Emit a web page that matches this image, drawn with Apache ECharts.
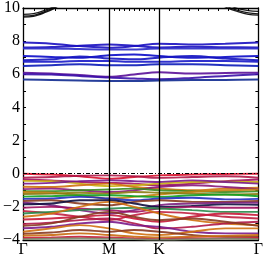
<!DOCTYPE html>
<html><head><meta charset="utf-8">
<script src="https://cdn.jsdelivr.net/npm/echarts@6/dist/echarts.min.js"></script>
<style>html,body{margin:0;padding:0;background:#fff}#c{width:266px;height:258px}</style>
</head><body><div id="c"></div>
<script>
// k-path coordinates (Γ - M - K - Γ, hexagonal BZ lengths)
const kPath = [0, 0.19, 0.38, 0.577, 0.744, 0.911, 1.133, 1.355, 1.577];
const kLabelPos = [0, 0.577, 0.911, 1.577];
const kLabels = ['Γ', 'M', 'K', 'Γ'];
// k sample marks along the top edge
const kTopTicks = [0.072, 0.144, 0.216, 0.289, 0.361, 0.433, 0.505,
  0.610, 0.644, 0.677, 0.711, 0.744, 0.777, 0.811, 0.844, 0.878,
  0.978, 1.044, 1.111, 1.177, 1.244, 1.311, 1.377, 1.444, 1.511];
const yTickLabels = [-4, -2, 0, 2, 4, 6, 8, 10];

// high conduction bands (black) near Γ
const blackKLeft = [0, 0.07, 0.14, 0.21, 0.28];
const blackLeft = [
  [9.45, 9.50, 9.70, 9.98, 10.4],
  [9.51, 9.56, 9.76, 10.04, 10.45],
  [9.62, 9.66, 9.84, 10.1, 10.5]
];
const blackKRight = [1.577, 1.51, 1.44, 1.37, 1.30];
const blackRight = [
  [9.57, 9.62, 9.78, 10.0, 10.35],
  [9.65, 9.70, 9.85, 10.08, 10.42],
  [9.80, 9.84, 9.96, 10.2, 10.5]
];

// conduction bands (blue/purple)
const conductionBands = [
  [7.92, 7.85, 7.70, 7.60, 7.70, 7.85, 7.80, 7.85, 7.92],
  [7.62, 7.65, 7.72, 7.80, 7.72, 7.62, 7.66, 7.63, 7.62],
  [7.55, 7.55, 7.52, 7.50, 7.50, 7.55, 7.55, 7.55, 7.55],
  [7.10, 7.05, 7.00, 7.15, 7.20, 7.10, 7.00, 7.05, 7.10],
  [6.85, 6.90, 7.08, 6.95, 6.90, 7.00, 7.10, 6.95, 6.85],
  [6.75, 6.75, 6.80, 6.80, 6.75, 6.75, 6.80, 6.80, 6.75],
  [6.50, 6.55, 6.60, 6.55, 6.55, 6.60, 6.60, 6.55, 6.50],
  [6.10, 6.05, 5.95, 5.85, 5.98, 6.12, 6.05, 6.08, 6.10],
  [6.00, 5.98, 5.90, 5.80, 5.75, 5.70, 5.78, 5.90, 6.00],
  [5.68, 5.66, 5.62, 5.60, 5.60, 5.62, 5.65, 5.66, 5.68]
];
const conductionColors = ['#1a10c0','#1a10c0','#2a2ac8','#0a0ac8','#1414c0','#1a1ac8','#0a1ab8','#5a1098','#3a10a8','#102a90'];

// valence bands
const valenceBands = [
  [0.00, -0.05, -0.15, -0.30, -0.20, -0.10, -0.05, -0.02, 0.00],
  [-0.24, -0.20, -0.12, -0.10, -0.15, -0.25, -0.20, -0.15, -0.24],
  [-0.35, -0.40, -0.50, -0.55, -0.60, -0.70, -0.60, -0.45, -0.35],
  [-0.43, -0.45, -0.60, -0.75, -0.70, -0.60, -0.50, -0.48, -0.50],
  [-0.60, -0.55, -0.45, -0.40, -0.45, -0.50, -0.40, -0.50, -0.60],
  [-0.79, -0.80, -0.70, -0.60, -0.80, -0.90, -1.00, -0.90, -0.85],
  [-0.93, -0.90, -1.00, -1.10, -1.00, -0.80, -0.70, -0.80, -0.93],
  [-1.06, -1.05, -1.00, -0.95, -0.90, -1.00, -1.05, -1.10, -1.06],
  [-1.10, -1.15, -1.30, -1.50, -1.40, -1.25, -1.10, -1.00, -0.95],
  [-1.22, -1.20, -1.15, -1.20, -1.10, -1.15, -1.20, -1.25, -1.22],
  [-1.38, -1.35, -1.30, -1.30, -1.35, -1.40, -1.30, -1.25, -1.36],
  [-1.52, -1.50, -1.40, -1.50, -1.60, -1.50, -1.45, -1.55, -1.52],
  [-1.65, -1.60, -1.80, -1.90, -1.70, -1.60, -1.70, -1.70, -1.65],
  [-1.75, -1.90, -2.20, -2.40, -2.20, -1.90, -1.80, -1.75, -1.75],
  [-1.85, -1.80, -1.60, -1.60, -1.80, -2.00, -1.95, -1.85, -1.88],
  [-2.05, -2.00, -2.10, -2.20, -2.30, -2.10, -2.00, -2.05, -2.05],
  [-2.25, -2.40, -2.60, -2.80, -2.50, -2.30, -2.40, -2.60, -2.70],
  [-2.40, -2.30, -2.20, -2.10, -2.05, -2.10, -2.20, -2.30, -2.30],
  [-2.60, -2.40, -2.00, -1.70, -2.00, -2.40, -2.80, -3.00, -3.10],
  [-2.76, -2.70, -2.60, -2.50, -2.70, -2.90, -2.60, -2.40, -2.50],
  [-3.03, -2.95, -2.80, -2.70, -3.00, -3.30, -3.20, -3.00, -2.90],
  [-3.15, -3.00, -2.60, -2.30, -2.60, -2.80, -2.70, -2.90, -3.15],
  [-3.29, -3.20, -3.00, -2.90, -3.10, -3.20, -3.50, -3.60, -3.60],
  [-3.50, -3.30, -3.10, -3.30, -3.60, -3.70, -3.50, -3.30, -3.30],
  [-3.62, -3.55, -3.40, -3.50, -3.40, -3.50, -3.70, -3.80, -3.80],
  [-3.74, -3.70, -3.60, -3.70, -3.80, -3.85, -3.80, -3.75, -3.70],
  [-3.88, -3.85, -3.80, -3.85, -3.90, -3.95, -3.90, -3.90, -3.88],
  [-3.95, -3.92, -3.90, -3.92, -3.95, -3.98, -3.95, -3.92, -3.95]
];
const valenceColors = ['#d8102a','#b01848','#a01060','#c8b010','#7a1a8a','#d07010','#8a1a7a','#3a8a20',
  '#c88010','#8a7a10','#10a020','#2030c0','#8a3a20','#7a2080','#101040','#a01060','#c02040','#2a8a4a',
  '#d07010','#c81838','#b01848','#8a3a20','#7a1a8a','#d07010','#8a3a20','#c86a10','#c81838','#7a8a6a'];

const series = [];
function addBand(ks, vals, color, w) {
  series.push({
    type: 'line', data: ks.map((k, i) => [k, vals[i]]), smooth: 0.35, symbol: 'none',
    clip: true, silent: true, lineStyle: { color: color, width: w, opacity: 0.9 }
  });
}
blackLeft.forEach(v => addBand(blackKLeft, v, '#000', 1.3));
blackRight.forEach(v => addBand(blackKRight, v, '#000', 1.3));
conductionBands.forEach((v, i) => addBand(kPath, v, conductionColors[i], 2));
valenceBands.forEach((v, i) => addBand(kPath, v, valenceColors[i], 1.9));

// reference lines: high-symmetry verticals and Fermi level
series.push({
  type: 'line', data: [], silent: true, z: 5,
  markLine: {
    symbol: 'none', silent: true, label: { show: false },
    data: [
      { xAxis: kLabelPos[1], lineStyle: { color: '#000', width: 1.3, type: 'solid' } },
      { xAxis: kLabelPos[2], lineStyle: { color: '#000', width: 1.3, type: 'solid' } },
      { yAxis: 0, lineStyle: { color: '#000', width: 1, type: [4, 2, 1, 2] } }
    ]
  }
});

const serif = 'Liberation Serif, Times New Roman, serif';
const chart = echarts.init(document.getElementById('c'), null, { renderer: 'canvas' });
chart.setOption({
  animation: false,
  grid: { left: 22, right: 5, top: 6, bottom: 15, containLabel: false },
  xAxis: [
    {
      type: 'value', min: 0, max: 1.577, position: 'bottom',
      axisLine: { onZero: false, lineStyle: { color: '#000', width: 1.3 } },
      axisTick: { show: false },
      splitLine: { show: false },
      axisLabel: { customValues: kLabelPos, formatter: v => kLabels[kLabelPos.indexOf(v)] || '',
        color: '#000', fontFamily: serif, fontSize: 16, margin: 2, showMinLabel: true, showMaxLabel: true }
    },
    {
      type: 'value', min: 0, max: 1.577, position: 'top',
      axisLine: { onZero: false, lineStyle: { color: '#000', width: 1.3 } },
      axisTick: { show: true, inside: true, length: 3, customValues: kTopTicks, lineStyle: { color: '#000' } },
      splitLine: { show: false }, axisLabel: { show: false }
    }
  ],
  yAxis: [
    {
      type: 'value', min: -4, max: 10, interval: 1, position: 'left',
      axisLine: { show: true, onZero: false, lineStyle: { color: '#000', width: 1.3 } },
      axisTick: { show: true, inside: true, length: 3, lineStyle: { color: '#000' } },
      splitLine: { show: false },
      axisLabel: { color: '#000', fontFamily: serif, fontSize: 16, margin: 3,
        formatter: v => yTickLabels.indexOf(v) >= 0 ? String(v).replace('-', '\u2212') : '' }
    },
    {
      type: 'value', min: -4, max: 10, interval: 1, position: 'right',
      axisLine: { show: true, onZero: false, lineStyle: { color: '#000', width: 1.3 } },
      axisTick: { show: true, inside: true, length: 3, lineStyle: { color: '#000' } },
      splitLine: { show: false }, axisLabel: { show: false }
    }
  ],
  series: series
});
</script></body></html>
